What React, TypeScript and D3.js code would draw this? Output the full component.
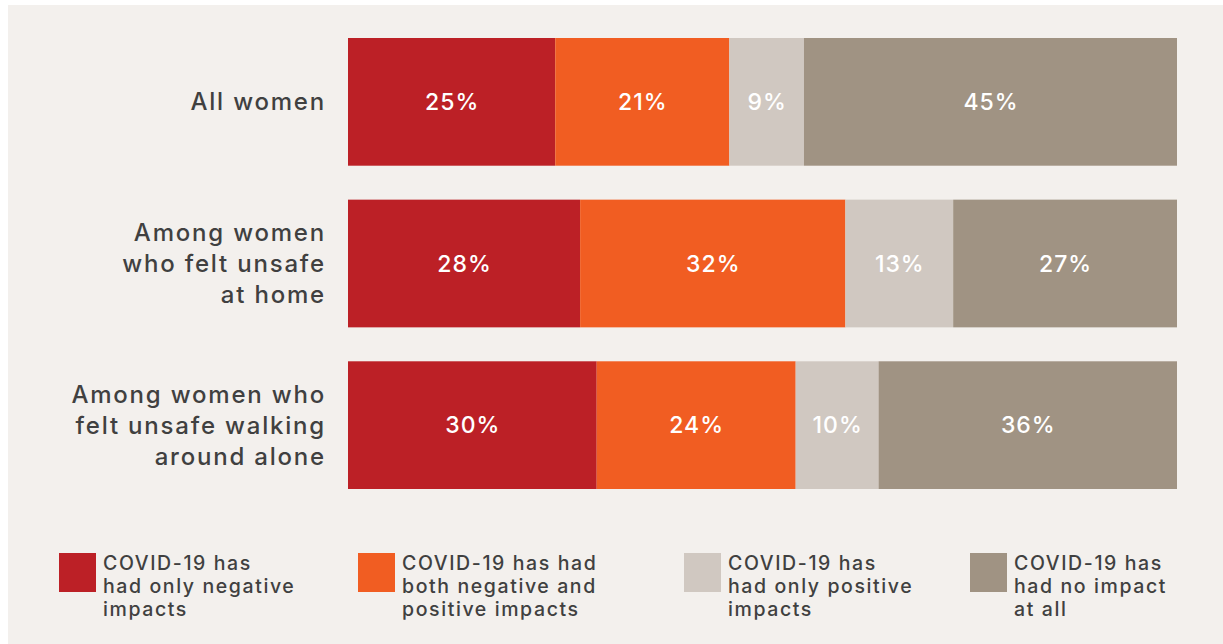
import React from "react";
import * as d3 from "d3";

const categories = [
  ["All women"],
  ["Among women", "who felt unsafe", "at home"],
  ["Among women who", "felt unsafe walking", "around alone"],
];
const seriesNames = [
  ["COVID-19 has", "had only negative", "impacts"],
  ["COVID-19 has had", "both negative and", "positive impacts"],
  ["COVID-19 has", "had only positive", "impacts"],
  ["COVID-19 has", "had no impact", "at all"],
];
const colors = ["#BC2026", "#F15D22", "#D0C8C1", "#A09383"];
const allWomen = [25, 21, 9, 45];
const unsafeHome = [28, 32, 13, 27];
const unsafeWalking = [30, 24, 10, 36];
const rows = [allWomen, unsafeHome, unsafeWalking];

const W = 1223;
const H = 644;
const FONT = "Inter, 'DejaVu Sans', sans-serif";
const TEXT = "#404040";

export default function App() {
  const x = d3.scaleLinear().domain([0, 100]).range([348, 1177]);
  const y = d3.scaleBand<number>().domain([0, 1, 2]).range([38, 489]).paddingInner(0.21).paddingOuter(0);
  const legendX = [59, 358, 684, 970];

  return (
    <svg width={W} height={H} style={{ position: "absolute", left: 0, top: 0 }}>
      <rect x={0} y={0} width={W} height={H} fill="#ffffff" />
      <rect x={8} y={5} width={W - 8} height={H - 5} fill="#F3F0ED" />
      {rows.map((vals, i) => {
        const stack = d3.cumsum(vals);
        const y0 = y(i)!;
        const bh = y.bandwidth();
        const lines = categories[i];
        const cy = y0 + bh / 2;
        const lh = 31;
        return (
          <g key={i}>
            {vals.map((v, j) => {
              const start = j === 0 ? 0 : stack[j - 1];
              const x0 = x(start);
              const x1 = x(start + v);
              return (
                <g key={j}>
                  <rect x={x0} y={y0} width={x1 - x0} height={bh} fill={colors[j]} />
                  <text
                    x={(x0 + x1) / 2 + 0.5}
                    y={cy}
                    dy="0.36em"
                    textAnchor="middle"
                    fill="#ffffff"
                    fontFamily={FONT}
                    fontWeight={500}
                    fontSize={23}
                    letterSpacing={1}
                  >
                    {v}%
                  </text>
                </g>
              );
            })}
            {lines.map((t, k) => (
              <text
                key={k}
                x={326}
                y={cy + (k - (lines.length - 1) / 2) * lh}
                dy="0.36em"
                textAnchor="end"
                fill={TEXT}
                fontFamily={FONT}
                fontWeight={500}
                fontSize={24}
                letterSpacing={1.8}
              >
                {t}
              </text>
            ))}
          </g>
        );
      })}
      {seriesNames.map((lines, j) => (
        <g key={j}>
          <rect x={legendX[j]} y={553} width={37} height={39} fill={colors[j]} />
          {lines.map((t, k) => (
            <text
              key={k}
              x={legendX[j] + 44}
              y={563 + k * 23}
              dy="0.36em"
              fill={TEXT}
              fontFamily={FONT}
              fontWeight={500}
              fontSize={19.5}
              letterSpacing={1.6}
            >
              {t}
            </text>
          ))}
        </g>
      ))}
    </svg>
  );
}
